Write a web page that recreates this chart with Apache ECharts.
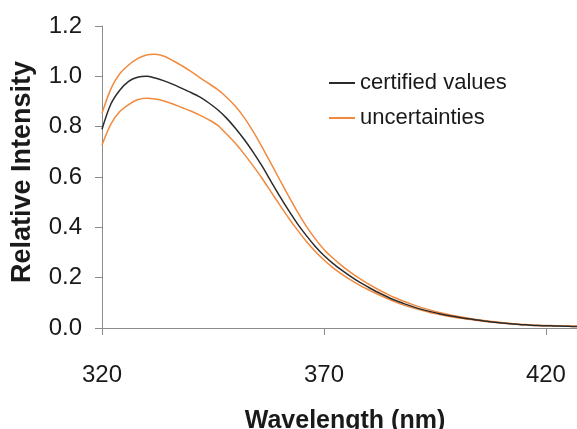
<!DOCTYPE html>
<html>
<head>
<meta charset="utf-8">
<script src="https://cdn.jsdelivr.net/npm/echarts@6/dist/echarts.min.js"></script>
<style>
  html, body { margin: 0; padding: 0; background: #fff; }
  #chart { width: 577px; height: 429px; }
</style>
</head>
<body>
<div id="chart"></div>
<script>
  var wavelengths = [320, 322, 324, 326, 328, 330, 332, 334, 336, 338, 340, 342, 344, 346, 348, 350,
    352, 354, 356, 358, 360, 362, 364, 366, 368, 370, 372, 374, 376, 378, 380, 382, 384, 386, 388, 390,
    392, 394, 396, 398, 400, 402, 404, 406, 408, 410, 412, 414, 416, 418, 420, 422, 424, 426, 428];

  var certified = [0.79, 0.89, 0.945, 0.98, 0.996, 1.0, 0.993, 0.982, 0.968, 0.952, 0.936, 0.918, 0.895, 0.868, 0.835, 0.795,
    0.75, 0.70, 0.645, 0.585, 0.525, 0.468, 0.415, 0.368, 0.325, 0.288, 0.257, 0.23, 0.205, 0.182, 0.162, 0.143, 0.126, 0.11, 0.097, 0.085,
    0.074, 0.065, 0.057, 0.05, 0.044, 0.038, 0.033, 0.028, 0.024, 0.02, 0.017, 0.014, 0.012, 0.01, 0.009, 0.008, 0.007, 0.006, 0.005];

  var upperBound = [0.853, 0.95, 1.01, 1.045, 1.07, 1.085, 1.088, 1.08, 1.062, 1.042, 1.02, 0.995, 0.972, 0.948, 0.918, 0.882,
    0.837, 0.782, 0.721, 0.656, 0.59, 0.525, 0.462, 0.405, 0.355, 0.312, 0.278, 0.248, 0.221, 0.197, 0.175, 0.155, 0.137, 0.12, 0.106, 0.093,
    0.081, 0.071, 0.062, 0.054, 0.047, 0.041, 0.035, 0.03, 0.026, 0.022, 0.018, 0.015, 0.013, 0.011, 0.01, 0.009, 0.008, 0.007, 0.006];

  var lowerBound = [0.727, 0.81, 0.86, 0.888, 0.907, 0.913, 0.91, 0.902, 0.89, 0.876, 0.862, 0.846, 0.828, 0.806, 0.772, 0.735,
    0.692, 0.645, 0.596, 0.543, 0.49, 0.438, 0.39, 0.345, 0.305, 0.27, 0.24, 0.214, 0.191, 0.17, 0.152, 0.135, 0.119, 0.104, 0.091, 0.08,
    0.07, 0.061, 0.054, 0.047, 0.041, 0.036, 0.031, 0.027, 0.023, 0.02, 0.017, 0.014, 0.012, 0.01, 0.009, 0.008, 0.007, 0.006, 0.005];

  var xTicks = [320, 370, 420];

  function pairs(values) {
    var out = [];
    for (var i = 0; i < wavelengths.length; i += 1) {
      out.push([wavelengths[i], values[i]]);
    }
    return out;
  }

  var textColor = '#1a1a1a';
  var axisColor = '#8c8c8c';
  var orange = '#f28a3e';

  var chart = echarts.init(document.getElementById('chart'), null, { renderer: 'canvas' });

  chart.setOption({
    animation: false,
    backgroundColor: '#fff',
    grid: { left: 102, right: 0, top: 26, bottom: 101, containLabel: false, outerBoundsMode: 'none' },
    legend: {
      orient: 'vertical',
      left: 324,
      top: 66,
      icon: 'rect',
      itemWidth: 26,
      itemHeight: 2,
      itemGap: 11,
      textStyle: { fontFamily: 'Liberation Sans, Arial', fontSize: 22, color: textColor, lineHeight: 24 },
      data: ['certified values', 'uncertainties']
    },
    xAxis: {
      type: 'value',
      min: 320,
      max: 427,
      interval: 50,
      name: 'Wavelength (nm)',
      nameLocation: 'middle',
      nameGap: 81,
      nameTextStyle: { fontFamily: 'Liberation Sans, Arial', fontSize: 25, fontWeight: 'bold', color: textColor, padding: [0, 0, 0, 11] },
      axisLine: { lineStyle: { color: axisColor, width: 1 } },
      axisTick: { show: true, length: 7, inside: false, customValues: xTicks, lineStyle: { color: axisColor } },
      axisLabel: { customValues: xTicks, margin: 35, fontFamily: 'Liberation Sans, Arial', fontSize: 24, color: textColor },
      splitLine: { show: false }
    },
    yAxis: {
      type: 'value',
      min: 0,
      max: 1.2,
      interval: 0.2,
      name: 'Relative Intensity',
      nameLocation: 'middle',
      nameGap: 66,
      nameTextStyle: { fontFamily: 'Liberation Sans, Arial', fontSize: 27, fontWeight: 'bold', color: textColor, padding: [0, 0, 0, 10] },
      axisLine: { show: true, lineStyle: { color: axisColor, width: 1 } },
      axisTick: { show: true, length: 7, lineStyle: { color: axisColor } },
      axisLabel: {
        margin: 20,
        fontFamily: 'Liberation Sans, Arial',
        fontSize: 24,
        color: textColor,
        formatter: function (v) { return v.toFixed(1); }
      },
      splitLine: { show: false }
    },
    series: [
      {
        name: 'uncertainties',
        type: 'line',
        data: pairs(upperBound),
        showSymbol: false,
        smooth: 0.3,
        color: orange,
        lineStyle: { color: orange, width: 1.5 }
      },
      {
        name: 'uncertainties',
        type: 'line',
        data: pairs(lowerBound),
        showSymbol: false,
        smooth: 0.3,
        color: orange,
        lineStyle: { color: orange, width: 1.5 }
      },
      {
        name: 'certified values',
        type: 'line',
        data: pairs(certified),
        showSymbol: false,
        smooth: 0.3,
        color: '#2b2b2b',
        lineStyle: { color: '#2b2b2b', width: 1.5 }
      }
    ]
  });
</script>
</body>
</html>
